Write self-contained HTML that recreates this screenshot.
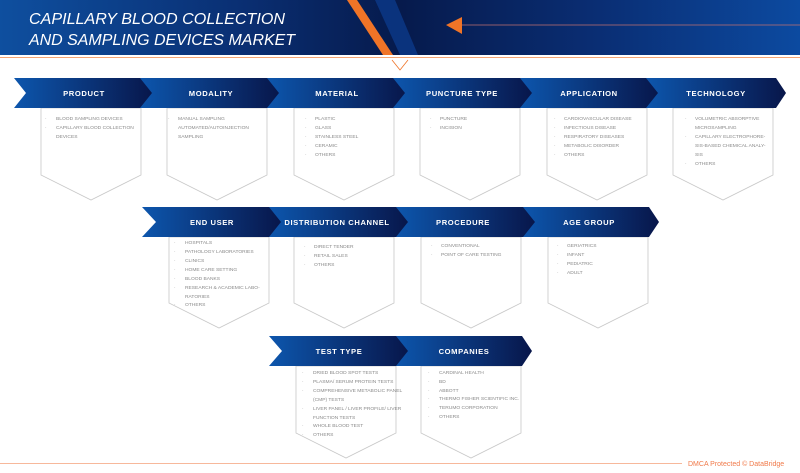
<!DOCTYPE html>
<html><head><meta charset="utf-8"><style>
html,body{margin:0;padding:0;background:#fff;}
svg{display:block;font-family:"Liberation Sans",Arial,sans-serif;}
.h{fill:#fff;font-weight:bold;font-size:7.6px;letter-spacing:0.6px;text-anchor:middle;}
.t{fill:#8a8a8a;font-size:4.9px;}
.b{fill:none;stroke:#c8c8c8;stroke-width:0.8;}
</style></head><body>
<svg width="800" height="473" viewBox="0 0 800 473">
<defs>
<linearGradient id="hd" x1="0" x2="1" y1="0" y2="0">
<stop offset="0" stop-color="#0e4f9f"/><stop offset="0.3" stop-color="#0a2f73"/><stop offset="0.5" stop-color="#061a4c"/><stop offset="0.75" stop-color="#0a2e74"/><stop offset="1" stop-color="#0c4aa0"/>
</linearGradient>
<linearGradient id="cv" x1="0" x2="1" y1="0" y2="0">
<stop offset="0" stop-color="#0d56ad"/><stop offset="1" stop-color="#08164a"/>
</linearGradient>
</defs>
<rect x="0" y="0" width="800" height="55" fill="url(#hd)"/>
<polygon points="375,0 395,0 418,55 400,55" fill="#0b3a8a" opacity="0.8"/>
<polygon points="347,0 357,0 393,55 383,55" fill="#f07427"/>
<line x1="460" y1="25" x2="800" y2="25" stroke="#c07070" stroke-width="0.8"/>
<polygon points="446,25 462,17 462,34" fill="#f07427"/>
<text x="29" y="24" fill="#fff" font-size="16" font-style="italic" textLength="256" lengthAdjust="spacingAndGlyphs">CAPILLARY BLOOD COLLECTION</text>
<text x="29" y="45" fill="#fff" font-size="16" font-style="italic" textLength="266" lengthAdjust="spacingAndGlyphs">AND SAMPLING DEVICES MARKET</text>
<line x1="0" y1="57.5" x2="800" y2="57.5" stroke="#f5a573" stroke-width="1"/>
<polyline points="392,60 400,70 408,60" fill="none" stroke="#f07427" stroke-width="0.8"/>

<g id="r1">
<polygon class="b" points="41,108 41,175 91,200 141,175 141,108"/>
<polygon class="b" points="167,108 167,175 217,200 267,175 267,108"/>
<polygon class="b" points="294,108 294,175 344,200 394,175 394,108"/>
<polygon class="b" points="420,108 420,175 470,200 520,175 520,108"/>
<polygon class="b" points="547,108 547,175 597,200 647,175 647,108"/>
<polygon class="b" points="673,108 673,175 723,200 773,175 773,108"/>
<polygon fill="url(#cv)" points="14,78 144,78 154,93 144,108 14,108 26,93"/>
<polygon fill="url(#cv)" points="140,78 270,78 280,93 270,108 140,108 152,93"/>
<polygon fill="url(#cv)" points="267,78 397,78 407,93 397,108 267,108 279,93"/>
<polygon fill="url(#cv)" points="393,78 523,78 533,93 523,108 393,108 405,93"/>
<polygon fill="url(#cv)" points="520,78 650,78 660,93 650,108 520,108 532,93"/>
<polygon fill="url(#cv)" points="646,78 776,78 786,93 776,108 646,108 658,93"/>
<text class="h" x="84" y="96">PRODUCT</text>
<text class="h" x="211" y="96">MODALITY</text>
<text class="h" x="337" y="96">MATERIAL</text>
<text class="h" x="462" y="96">PUNCTURE TYPE</text>
<text class="h" x="589" y="96">APPLICATION</text>
<text class="h" x="716" y="96">TECHNOLOGY</text>
<g class="t">
<text x="45" y="120">·</text><text x="56" y="120">BLOOD SAMPLING DEVICES</text>
<text x="45" y="129">·</text><text x="56" y="129">CAPILLARY BLOOD COLLECTION</text>
<text x="56" y="138">DEVICES</text>
<text x="168" y="120">·</text><text x="178" y="120">MANUAL SAMPLING</text>
<text x="178" y="129">AUTOMATED/AUTOINJECTION</text>
<text x="178" y="138">SAMPLING</text>
<text x="305" y="120">·</text><text x="315" y="120">PLASTIC</text>
<text x="305" y="129">·</text><text x="315" y="129">GLASS</text>
<text x="305" y="138">·</text><text x="315" y="138">STAINLESS STEEL</text>
<text x="305" y="147">·</text><text x="315" y="147">CERAMIC</text>
<text x="305" y="156">·</text><text x="315" y="156">OTHERS</text>
<text x="430" y="120">·</text><text x="440" y="120">PUNCTURE</text>
<text x="430" y="129">·</text><text x="440" y="129">INCISION</text>
<text x="554" y="120">·</text><text x="564" y="120">CARDIOVASCULAR DISEASE</text>
<text x="554" y="129">·</text><text x="564" y="129">INFECTIOUS DISEASE</text>
<text x="554" y="138">·</text><text x="564" y="138">RESPIRATORY DISEASES</text>
<text x="554" y="147">·</text><text x="564" y="147">METABOLIC DISORDER</text>
<text x="554" y="156">·</text><text x="564" y="156">OTHERS</text>
<text x="685" y="120">·</text><text x="695" y="120">VOLUMETRIC ABSORPTIVE</text>
<text x="695" y="129">MICROSAMPLING</text>
<text x="685" y="138">·</text><text x="695" y="138">CAPILLARY ELECTROPHORE-</text>
<text x="695" y="147">SIS-BASED CHEMICAL ANALY-</text>
<text x="695" y="156">SIS</text>
<text x="685" y="165">·</text><text x="695" y="165">OTHERS</text>
</g>
</g>

<polygon class="b" points="169,237 169,303 219,328 269,303 269,237"/>
<polygon class="b" points="294,237 294,303 344,328 394,303 394,237"/>
<polygon class="b" points="421,237 421,303 471,328 521,303 521,237"/>
<polygon class="b" points="548,237 548,303 598,328 648,303 648,237"/>
<polygon fill="url(#cv)" points="142,207 272,207 282,222 272,237 142,237 156,222"/>
<polygon fill="url(#cv)" points="269,207 399,207 409,222 399,237 269,237 281,222"/>
<polygon fill="url(#cv)" points="396,207 526,207 536,222 526,237 396,237 408,222"/>
<polygon fill="url(#cv)" points="523,207 649,207 659,222 649,237 523,237 535,222"/>
<text class="h" x="212" y="225">END USER</text>
<text class="h" x="337" y="225">DISTRIBUTION CHANNEL</text>
<text class="h" x="463" y="225">PROCEDURE</text>
<text class="h" x="589" y="225">AGE GROUP</text>
<g class="t">
<text x="174" y="244">·</text><text x="185" y="244">HOSPITALS</text>
<text x="174" y="253">·</text><text x="185" y="253">PATHOLOGY LABORATORIES</text>
<text x="174" y="262">·</text><text x="185" y="262">CLINICS</text>
<text x="174" y="271">·</text><text x="185" y="271">HOME CARE SETTING</text>
<text x="174" y="280">·</text><text x="185" y="280">BLOOD BANKS</text>
<text x="174" y="289">·</text><text x="185" y="289">RESEARCH &amp; ACADEMIC LABO-</text>
<text x="185" y="298">RATORIES</text>
<text x="174" y="306">·</text><text x="185" y="306">OTHERS</text>
<text x="304" y="248">·</text><text x="314" y="248">DIRECT TENDER</text>
<text x="304" y="257">·</text><text x="314" y="257">RETAIL SALES</text>
<text x="304" y="266">·</text><text x="314" y="266">OTHERS</text>
<text x="431" y="247">·</text><text x="441" y="247">CONVENTIONAL</text>
<text x="431" y="256">·</text><text x="441" y="256">POINT OF CARE TESTING</text>
<text x="557" y="247">·</text><text x="567" y="247">GERIATRICS</text>
<text x="557" y="256">·</text><text x="567" y="256">INFANT</text>
<text x="557" y="265">·</text><text x="567" y="265">PEDIATRIC</text>
<text x="557" y="274">·</text><text x="567" y="274">ADULT</text>
</g>

<polygon class="b" points="296,366 296,433 346,458 396,433 396,366"/>
<polygon class="b" points="421,366 421,433 471,458 521,433 521,366"/>
<polygon fill="url(#cv)" points="269,336 399,336 409,351 399,366 269,366 282,351"/>
<polygon fill="url(#cv)" points="396,336 522,336 532,351 522,366 396,366 408,351"/>
<text class="h" x="339" y="354">TEST TYPE</text>
<text class="h" x="464" y="354">COMPANIES</text>
<g class="t">
<text x="302" y="374">·</text><text x="313" y="374">DRIED BLOOD SPOT TESTS</text>
<text x="302" y="383">·</text><text x="313" y="383">PLASMA/ SERUM PROTEIN TESTS</text>
<text x="302" y="392">·</text><text x="313" y="392">COMPREHENSIVE METABOLIC PANEL</text>
<text x="313" y="401">(CMP) TESTS</text>
<text x="302" y="410">·</text><text x="313" y="410">LIVER PANEL / LIVER PROFILE/ LIVER</text>
<text x="313" y="419">FUNCTION TESTS</text>
<text x="302" y="427">·</text><text x="313" y="427">WHOLE BLOOD TEST</text>
<text x="302" y="436">·</text><text x="313" y="436">OTHERS</text>
<text x="428" y="374">·</text><text x="439" y="374">CARDINAL HEALTH</text>
<text x="428" y="383">·</text><text x="439" y="383">BD</text>
<text x="428" y="392">·</text><text x="439" y="392">ABBOTT</text>
<text x="428" y="400">·</text><text x="439" y="400">THERMO FISHER SCIENTIFIC INC.</text>
<text x="428" y="409">·</text><text x="439" y="409">TERUMO CORPORATION</text>
<text x="428" y="418">·</text><text x="439" y="418">OTHERS</text>
</g>

<line x1="0" y1="463.5" x2="682" y2="463.5" stroke="#f5a07a" stroke-width="0.8"/>
<text x="688" y="466" fill="#f07a4a" font-size="7">DMCA Protected © DataBridge</text>
</svg>
</body></html>
